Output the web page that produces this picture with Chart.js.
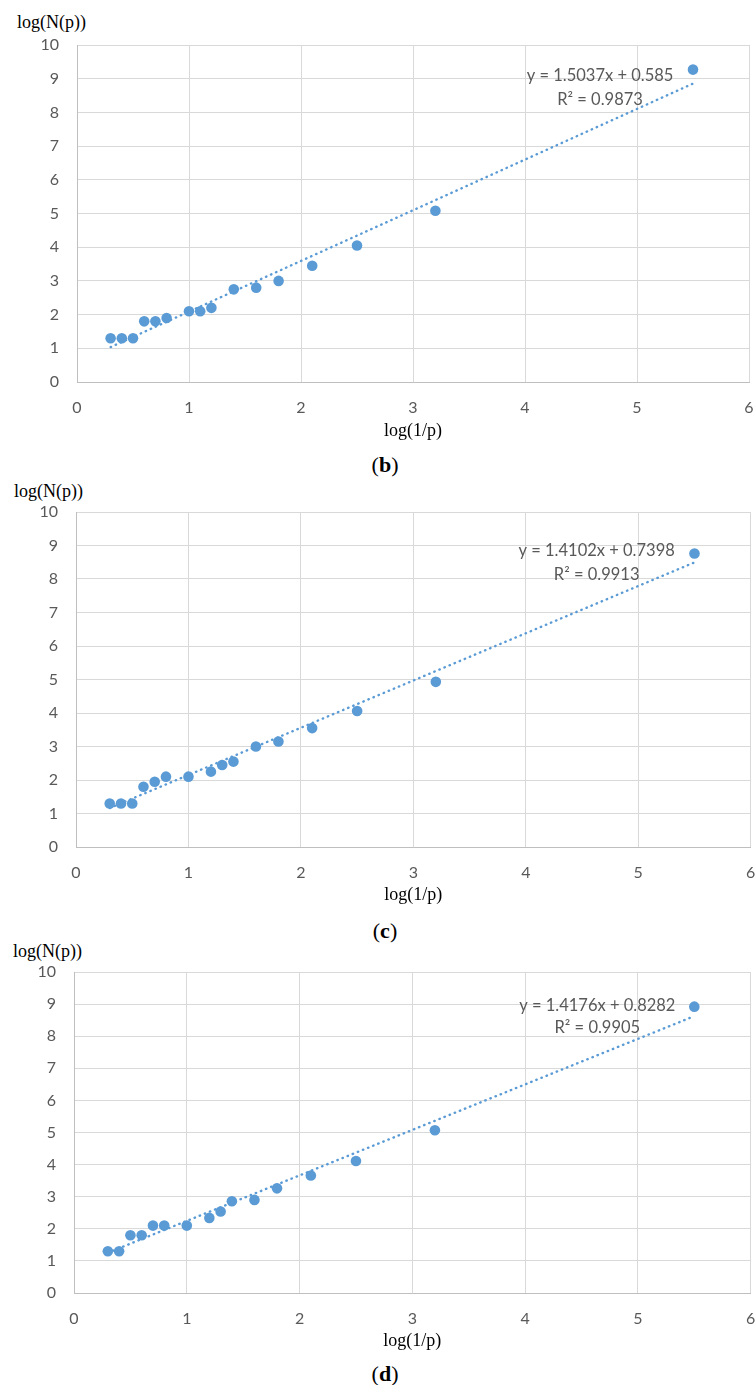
<!DOCTYPE html>
<html>
<head>
<meta charset="utf-8">
<script src="https://cdn.jsdelivr.net/npm/chart.js@4.4.1/dist/chart.umd.min.js"></script>
<style>
    body { margin: 0; background: #fff; }
    #page { position: relative; width: 756px; height: 1385px; overflow: hidden; }
    canvas { position: absolute; left: 0; }
    .ytitle { position: absolute; font-family: 'Liberation Serif', serif; font-size: 18px; color: #000; line-height: 20px; }
    .caption { position: absolute; width: 80px; text-align: center; font-family: 'Liberation Serif', serif; font-size: 22px; color: #000; line-height: 24px; }
</style>
</head>
<body>
<div id="page">
    <div class="ytitle" style="left:17px; top:12px;">log(N(p))</div>
    <canvas id="chartB" width="756" height="443" style="top:0px;"></canvas>
    <div class="caption" style="left:345px; top:453px;">(<b>b</b>)</div>

    <div class="ytitle" style="left:14px; top:481px;">log(N(p))</div>
    <canvas id="chartC" width="756" height="442" style="top:465px;"></canvas>
    <div class="caption" style="left:345px; top:919px;">(<b>c</b>)</div>

    <div class="ytitle" style="left:13px; top:941px;">log(N(p))</div>
    <canvas id="chartD" width="756" height="426" style="top:927px;"></canvas>
    <div class="caption" style="left:345px; top:1362px;">(<b>d</b>)</div>
</div>

<script>
// panel (b)
var xB = [0.3, 0.4, 0.5, 0.6, 0.7, 0.8, 1.0, 1.1, 1.2, 1.4, 1.6, 1.8, 2.1, 2.5, 3.2, 5.5];
var yB = [1.3, 1.3, 1.3, 1.8, 1.8, 1.9, 2.1, 2.1, 2.2, 2.75, 2.8, 3.0, 3.45, 4.05, 5.08, 9.27];

// panel (c)
var xC = [0.3, 0.4, 0.5, 0.6, 0.7, 0.8, 1.0, 1.2, 1.3, 1.4, 1.6, 1.8, 2.1, 2.5, 3.2, 5.5];
var yC = [1.3, 1.3, 1.3, 1.8, 1.95, 2.1, 2.1, 2.25, 2.45, 2.55, 3.0, 3.15, 3.55, 4.06, 4.93, 8.76];

// panel (d)
var xD = [0.3, 0.4, 0.5, 0.6, 0.7, 0.8, 1.0, 1.2, 1.3, 1.4, 1.6, 1.8, 2.1, 2.5, 3.2, 5.5];
var yD = [1.3, 1.3, 1.8, 1.8, 2.1, 2.1, 2.1, 2.34, 2.54, 2.86, 2.9, 3.26, 3.66, 4.11, 5.07, 8.92];

// linear trendlines as printed on the chart
var slopes = [1.5037, 1.4102, 1.4176];
var intercepts = [0.585, 0.7398, 0.8282];
var equations = ['y = 1.5037x + 0.585', 'y = 1.4102x + 0.7398', 'y = 1.4176x + 0.8282'];
var rSquared = ['R\u00B2 = 0.9873', 'R\u00B2 = 0.9913', 'R\u00B2 = 0.9905'];

// axis ticks
var xTicks = [0, 1, 2, 3, 4, 5, 6];
var yTicks = [0, 1, 2, 3, 4, 5, 6, 7, 8, 9, 10];

var blue = '#5B9BD5';
var grey = '#595959';

// draws the trendline equation text
var equationLabel = {
    id: 'equationLabel',
    afterDatasetsDraw: function (chart) {
        var opts = chart.options.plugins.equationLabel;
        var ctx = chart.ctx;
        var xs = chart.scales.x;
        var ys = chart.scales.y;
        ctx.save();
        ctx.font = '16.5px Lato';
        ctx.fillStyle = grey;
        ctx.textAlign = 'center';
        ctx.textBaseline = 'middle';
        ctx.fillText(opts.line1, xs.getPixelForValue(opts.x), ys.getPixelForValue(opts.y1));
        ctx.fillText(opts.line2, xs.getPixelForValue(opts.x), ys.getPixelForValue(opts.y2));
        ctx.restore();
    }
};

function toPoints(xs, ys) {
    return xs.map(function (x, i) { return { x: x, y: ys[i] }; });
}

function makeChart(id, idx, xs, ys, box) {
    var ctx = document.getElementById(id).getContext('2d');
    var h = box.height;
    var trendX = [xs[0], xs[xs.length - 1]];
    var trend = trendX.map(function (x) {
        return { x: x, y: slopes[idx] * x + intercepts[idx] };
    });

    return new Chart(ctx, {
        type: 'scatter',
        data: {
            datasets: [{
                label: 'Linear trend',
                data: trend,
                showLine: true,
                pointRadius: 0,
                borderColor: blue,
                borderWidth: 2.4,
                borderDash: [0.5, 5],
                borderCapStyle: 'round'
            }, {
                label: 'log(N(p))',
                data: toPoints(xs, ys),
                pointRadius: 5.3,
                pointHoverRadius: 5.3,
                backgroundColor: blue,
                borderWidth: 0
            }]
        },
        options: {
            responsive: false,
            animation: false,
            layout: {
                padding: { left: 0, top: box.top, right: 756 - box.right, bottom: 0 }
            },
            scales: {
                x: {
                    type: 'linear',
                    min: xTicks[0],
                    max: xTicks[xTicks.length - 1],
                    afterBuildTicks: function (scale) {
                        scale.ticks = xTicks.map(function (v) { return { value: v }; });
                    },
                    afterFit: function (scale) {
                        // fixed axis band, no extra room for end labels
                        scale.height = h - box.bottom;
                        scale.paddingLeft = 0;
                        scale.paddingRight = 0;
                    },
                    grid: { color: '#d9d9d9', drawTicks: false },
                    border: { color: '#bfbfbf' },
                    ticks: {
                        padding: 16,
                        color: grey,
                        font: { family: 'Lato', size: 16 }
                    },
                    title: {
                        display: true,
                        text: 'log(1/p)',
                        color: '#000',
                        padding: { top: 0, bottom: h - 10.8 - box.titleY },
                        font: { family: 'Liberation Serif', size: 18 }
                    }
                },
                y: {
                    type: 'linear',
                    min: yTicks[0],
                    max: yTicks[yTicks.length - 1],
                    afterBuildTicks: function (scale) {
                        scale.ticks = yTicks.map(function (v) { return { value: v }; });
                    },
                    afterFit: function (scale) {
                        scale.width = box.left;
                    },
                    grid: { color: '#d9d9d9', drawTicks: false },
                    border: { color: '#bfbfbf' },
                    ticks: {
                        padding: 18,
                        color: grey,
                        font: { family: 'Lato', size: 16 }
                    }
                }
            },
            plugins: {
                legend: { display: false },
                tooltip: { enabled: false },
                equationLabel: {
                    line1: equations[idx],
                    line2: rSquared[idx],
                    x: box.labelX,
                    y1: box.labelY1,
                    y2: box.labelY2
                }
            }
        },
        plugins: [equationLabel]
    });
}

document.addEventListener('DOMContentLoaded', function () {
    // chart area boxes are relative to each canvas
    makeChart('chartB', 0, xB, yB, { height: 443, top: 45, bottom: 382, left: 77, right: 749, titleY: 431, labelX: 4.67, labelY1: 9.08, labelY2: 8.37 });
    makeChart('chartC', 1, xC, yC, { height: 442, top: 47, bottom: 382, left: 76, right: 752, titleY: 430, labelX: 4.63, labelY1: 8.84, labelY2: 8.12 });
    makeChart('chartD', 2, xD, yD, { height: 426, top: 45, bottom: 366, left: 74, right: 752, titleY: 414, labelX: 4.64, labelY1: 8.94, labelY2: 8.26 });
});
</script>
</body>
</html>
